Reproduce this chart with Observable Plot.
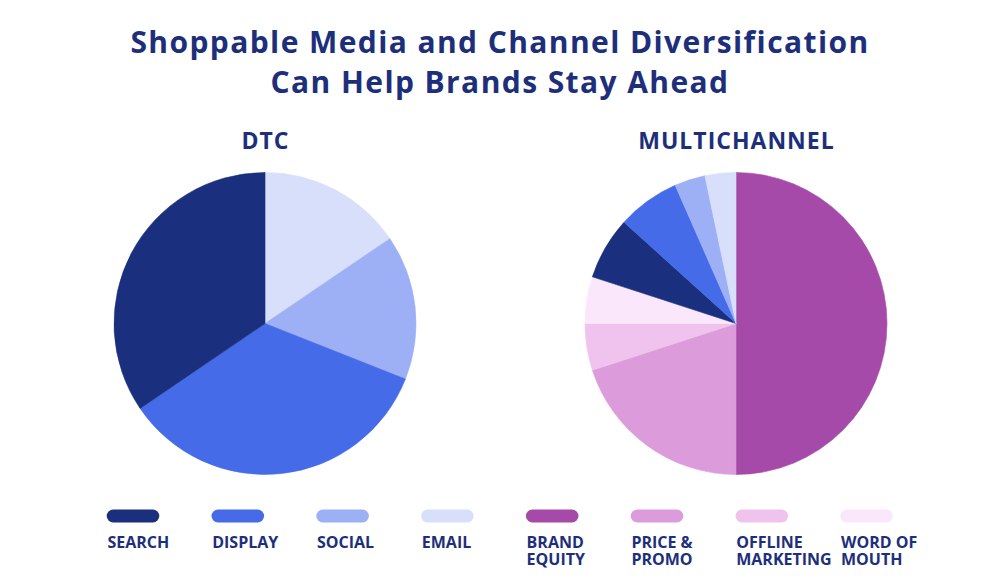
<!DOCTYPE html>
<html>
<head>
<meta charset="utf-8">
<script src="https://cdn.jsdelivr.net/npm/d3@7"></script>
<script src="https://cdn.jsdelivr.net/npm/@observablehq/plot@0.6"></script>
<style>
  html, body { margin: 0; padding: 0; background: #ffffff; }
  body { width: 1000px; height: 584px; overflow: hidden; font-family: "Open Sans", sans-serif; }
  #title {
    box-sizing: border-box; height: 120px; padding-top: 22px; margin: 0;
    text-align: center; font-size: 30px; line-height: 40px; font-weight: 700;
    color: #1d2f7b; letter-spacing: 1.4px;
  }
  svg { display: block; }
</style>
</head>
<body>
<div id="title">Shoppable Media and Channel Diversification<br>Can Help Brands Stay Ahead</div>
<div id="pies"></div>
<div id="legend"></div>
<script>
// ---- data ----
const charts = ["DTC", "MULTICHANNEL"];
const categories = ["SEARCH", "DISPLAY", "SOCIAL", "EMAIL", "BRAND EQUITY", "PRICE & PROMO", "OFFLINE MARKETING", "WORD OF MOUTH"];
const legendLabels = ["SEARCH", "DISPLAY", "SOCIAL", "EMAIL", "BRAND\nEQUITY", "PRICE &\nPROMO", "OFFLINE\nMARKETING", "WORD OF\nMOUTH"];
const colors = ["#1a2f7d", "#456be8", "#9db0f6", "#d8dffb", "#a64aaa", "#dc9cdb", "#efc3ee", "#fbe7fb"];

// slices listed clockwise from 12 o'clock (percent of total)
const dtcCategories = ["EMAIL", "SOCIAL", "DISPLAY", "SEARCH"];
const dtcValues = [15.5, 15.5, 34.5, 34.5];
const multiCategories = ["BRAND EQUITY", "PRICE & PROMO", "OFFLINE MARKETING", "WORD OF MOUTH", "SEARCH", "DISPLAY", "SOCIAL", "EMAIL"];
const multiValues = [50, 20, 5, 5, 6.7, 6.7, 3.3, 3.3];

const navy = "#1d2f7b";
const font = "'Open Sans', sans-serif";

const slices = [
  ...dtcCategories.map((c, i) => ({chart: "DTC", category: c, value: dtcValues[i]})),
  ...multiCategories.map((c, i) => ({chart: "MULTICHANNEL", category: c, value: multiValues[i]}))
];

const R = 151;

const piePlot = Plot.plot({
  width: 1000,
  height: 370,
  marginLeft: 29.5,
  marginRight: 28.5,
  marginTop: 52,
  marginBottom: 15,
  style: {fontFamily: font, background: "transparent", letterSpacing: "1px"},
  x: {type: "band", domain: charts, padding: 0, round: false, axis: null},
  color: {type: "ordinal", domain: categories, range: colors},
  marks: [
    Plot.dot(slices, {
      x: "chart",
      fill: "category",
      render: (index, scales, values, dimensions) => {
        const g = d3.create("svg:g");
        const bw = scales.x.bandwidth ? scales.x.bandwidth() : 0;
        const cy = dimensions.marginTop + (dimensions.height - dimensions.marginTop - dimensions.marginBottom) / 2;
        const arc = d3.arc().innerRadius(0).outerRadius(R);
        for (const [chart, I] of d3.group(index, i => slices[i].chart)) {
          const arcs = d3.pie().sort(null).value(i => slices[i].value)(I);
          const cx = scales.x(chart) + bw / 2;
          g.append("g")
            .attr("transform", `translate(${cx},${cy})`)
            .selectAll("path")
            .data(arcs)
            .join("path")
            .attr("d", arc)
            .attr("fill", d => values.fill[d.data])
            .attr("stroke", d => values.fill[d.data])
            .attr("stroke-width", 0.6);
        }
        return g.node();
      }
    }),
    Plot.text(charts, {
      x: d => d,
      text: d => d,
      frameAnchor: "top",
      lineAnchor: "bottom",
      dy: -23.7,
      fontSize: 23,
      fontWeight: 700,
      fill: navy
    })
  ]
});
document.getElementById("pies").append(piePlot);

const legendPlot = Plot.plot({
  width: 1000,
  height: 94,
  marginLeft: 80.6,
  marginRight: 81,
  marginTop: 0,
  marginBottom: 0,
  style: {fontFamily: font, background: "transparent"},
  x: {type: "band", domain: categories, padding: 0, round: false, axis: null},
  color: {type: "ordinal", domain: categories, range: colors},
  marks: [
    Plot.cell(categories, {
      x: d => d,
      fill: d => d,
      rx: 6.5,
      insetLeft: 26.1,
      insetRight: 26.1,
      insetTop: 19.5,
      insetBottom: 61.5
    }),
    Plot.text(categories, {
      x: d => d,
      text: (d, i) => legendLabels[i],
      frameAnchor: "top",
      lineAnchor: "top",
      textAnchor: "start",
      dx: -26.1,
      dy: 45.5,
      lineHeight: 1.05,
      fontSize: 16,
      fontWeight: 700,
      fill: navy
    })
  ]
});
document.getElementById("legend").append(legendPlot);
</script>
</body>
</html>
